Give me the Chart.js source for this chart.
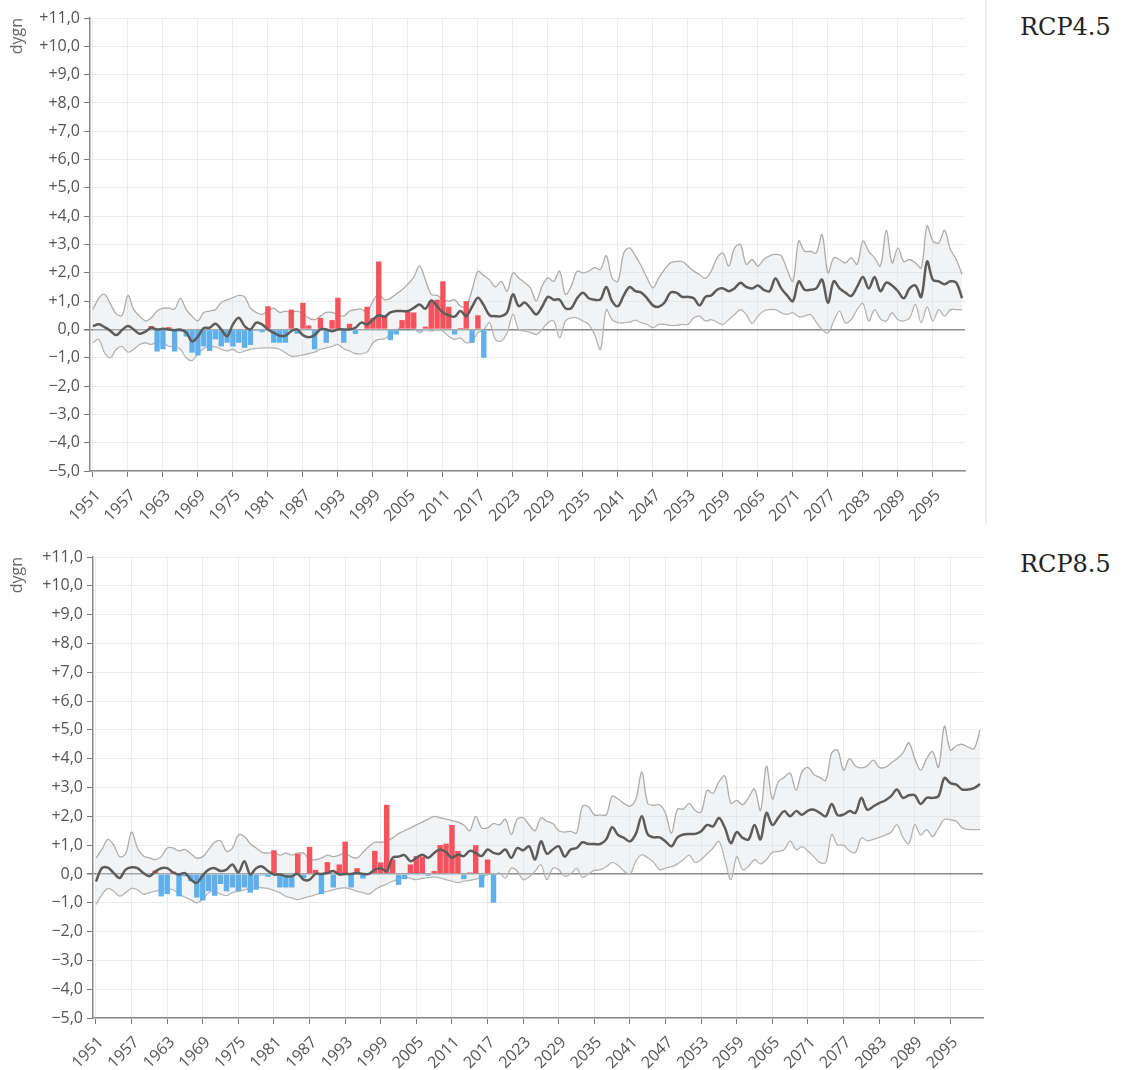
<!DOCTYPE html>
<html>
<head>
<meta charset="utf-8">
<script src="https://cdn.jsdelivr.net/npm/chart.js@4.4.1/dist/chart.umd.min.js"></script>
<style>
  body { margin: 0; background: #fff; width: 1128px; height: 1070px; position: relative; overflow: hidden; }
  .box { position: absolute; }
  .rcp { position: absolute; left: 1020px; font-family: 'DejaVu Serif', serif; font-size: 24px; color: #222; }
  .sep { position: absolute; left: 985px; top: 0; width: 2px; height: 525px; background: #f0f0f0; }
</style>
</head>
<body>
<div class="box" style="left:0;top:0"><canvas id="c45" width="980" height="530"></canvas></div>
<div class="sep"></div>
<div class="rcp" style="top:13px">RCP4.5</div>
<div class="box" style="left:0;top:537px"><canvas id="c85" width="995" height="533"></canvas></div>
<div class="rcp" style="top:550px">RCP8.5</div>
<script>
// years 1951-2100
const firstYear = 1951, lastYear = 2100;
const years = [];
for (let y = firstYear; y <= lastYear; y++) years.push(String(y));

// observed deviation (bars), 1961-2018
const obsStart = 1961;
const observed = [
  0.12, -0.78, -0.7, 0.08, -0.78, -0.08, -0.25, -0.82, -0.92, -0.6,
  -0.76, -0.35, -0.6, -0.47, -0.6, -0.47, -0.65, -0.55, -0.05, -0.1,
  0.82, -0.47, -0.47, -0.47, 0.7, -0.15, 0.94, 0.14, -0.7, 0.41,
  -0.47, 0.33, 1.12, -0.47, 0.2, -0.16, 0, 0.8, 0.4, 2.4,
  0.5, -0.38, -0.18, 0.33, 0.62, 0.6, -0.06, 0.1, 1.0, 1.05,
  1.7, 0.8, -0.18, 0.05, 1.0, -0.47, 0.5, -1.0
];

// RCP4.5 scenario, median / low / high
const rcp45Median = [
  0.12, 0.18, 0.08, -0.05, -0.2, -0.02, 0.12, 0.0, -0.15, -0.08,
  0.06, 0.0, 0.02, 0.0, -0.03, 0.0, -0.1, -0.42, -0.25, 0.05,
  0.06, 0.2, 0.0, -0.24, 0.18, 0.41, 0.12, 0.0, 0.24, 0.18,
  0.0, -0.12, -0.22, -0.22, -0.06, 0.0, -0.2, -0.28, -0.2, 0.0,
  0.0, -0.06, 0.0, 0.0, 0.0, 0.06, 0.24, 0.18, 0.35, 0.5,
  0.45, 0.6, 0.65, 0.65, 0.65, 0.76, 0.88, 0.73, 1.02, 0.82,
  0.6, 0.5, 0.45, 0.65, 0.47, 0.8, 1.12, 0.85, 0.5, 0.47,
  0.47, 0.6, 1.24, 0.82, 0.95, 0.75, 0.53, 0.8, 1.15, 1.05,
  1.05, 0.75, 0.75, 1.1, 1.3, 1.1, 1.05, 1.06, 1.5, 1.0,
  0.82, 1.2, 1.5, 1.35, 1.3, 1.1, 0.85, 0.8, 0.95, 1.3,
  1.3, 1.15, 1.15, 1.1, 0.85, 1.15, 1.2, 1.4, 1.45, 1.35,
  1.45, 1.65, 1.5, 1.45, 1.55, 1.4, 1.35, 1.8, 1.45, 1.2,
  1.0, 1.7, 1.4, 1.4, 1.45, 1.76, 0.94, 1.7, 1.45, 1.3,
  1.18, 1.5, 1.85, 1.45, 1.85, 1.35, 1.65, 1.55, 1.35, 1.1,
  1.45, 1.55, 1.15, 2.4, 1.75, 1.7, 1.6, 1.7, 1.65, 1.1
];
const rcp45High = [
  0.7, 1.1, 1.24, 0.9, 0.55, 0.5, 1.2, 0.7, 0.47, 0.3,
  0.41, 0.65, 0.75, 0.75, 0.72, 1.1, 0.7, 0.47, 0.3, 0.6,
  0.65, 0.7, 0.95, 1.05, 1.12, 1.2, 1.15, 0.75, 0.6, 0.53,
  0.65, 0.75, 0.6, 0.65, 0.6, 0.65, 0.55, 0.4, 0.35, 0.47,
  0.6, 0.6, 0.53, 0.47, 0.65, 0.7, 0.72, 0.6, 1.0, 1.25,
  1.05, 1.1, 1.25, 1.4, 1.6, 1.85, 2.24, 1.75, 1.24, 1.2,
  1.05, 1.0, 1.05, 0.82, 0.82, 1.4, 2.05, 1.9, 1.75, 1.5,
  1.7, 1.35, 2.0, 1.82, 1.65, 1.47, 1.0, 1.53, 1.82, 1.7,
  2.06, 1.24, 1.53, 2.06, 2.0, 2.06, 2.18, 2.12, 2.6, 1.82,
  1.7, 2.7, 2.88, 2.6, 2.24, 1.82, 1.47, 1.82, 2.12, 2.35,
  2.4, 2.4, 2.24, 2.06, 1.94, 1.8, 2.06, 2.53, 2.7, 2.24,
  2.88, 3.0, 2.3, 2.47, 2.24, 2.47, 2.6, 2.65, 2.6, 2.12,
  1.7, 3.12, 2.76, 2.76, 2.7, 3.35, 2.0, 2.53, 2.47, 2.35,
  2.53, 2.3, 3.12, 2.76, 2.53, 2.24, 3.5, 2.35, 2.88, 2.4,
  2.47, 2.35, 2.18, 3.65, 3.12, 3.06, 3.5, 2.82, 2.47, 1.94
];
const rcp45Low = [
  -0.47, -0.35, -0.82, -1.0, -0.7, -0.6, -0.8, -0.7, -0.53, -0.47,
  -0.53, -0.44, -0.45, -0.6, -0.6, -0.7, -1.0, -1.1, -0.85, -0.67,
  -0.6, -0.62, -0.7, -0.76, -0.7, -0.82, -0.76, -0.7, -0.67, -0.65,
  -0.65, -0.65, -0.7, -0.82, -0.94, -0.94, -0.9, -0.85, -0.8, -0.7,
  -0.65, -0.6, -0.53, -0.68, -0.76, -0.85, -0.86, -0.8, -0.47, -0.35,
  -0.33, -0.18, -0.02, 0.12, 0.3, 0.06, -0.12, 0.0, -0.06, 0.0,
  -0.06, -0.24, -0.35, -0.3, -0.47, -0.41, -0.12, 0.0, 0.24, -0.35,
  -0.41, -0.12, 0.53, 0.0, -0.06, -0.1, -0.18, 0.0, 0.24, 0.3,
  -0.3, 0.3, 0.41, 0.41, 0.3, 0.18, -0.18, -0.7, 0.7, 0.35,
  0.24, 0.24, 0.26, 0.33, 0.24, 0.18, 0.06, 0.18, 0.18, 0.14,
  0.14, 0.18, 0.18, 0.41, 0.47, 0.3, 0.35, 0.26, 0.18, 0.35,
  0.53, 0.7, 0.53, 0.21, 0.47, 0.65, 0.7, 0.7, 0.59, 0.53,
  0.59, 0.45, 0.47, 0.53, 0.26, 0.0, -0.12, 0.3, 0.65, 0.24,
  0.35, 0.7, 0.92, 0.3, 0.7, 0.38, 0.3, 0.59, 0.35, 0.3,
  0.41, 0.88, 0.24, 0.8, 0.3, 0.7, 0.47, 0.7, 0.7, 0.7
];

// RCP8.5 scenario, median / low / high
const rcp85Median = [
  -0.26, 0.2, 0.22, 0.03, -0.14, 0.15, 0.23, 0.2, 0.03, -0.08,
  0.08, 0.2, 0.2, 0.05, -0.02, 0.03, -0.2, -0.31, -0.05, 0.15,
  0.2, 0.1, 0.15, 0.33, 0.05, 0.44, -0.02, 0.2, 0.26, 0.1,
  -0.02, -0.02, -0.08, -0.08, 0.0, -0.2, -0.2, 0.0, 0.0, 0.03,
  0.1, -0.02, 0.0, 0.0, 0.03, 0.0, 0.0, 0.15, 0.2, 0.1,
  0.56, 0.6, 0.65, 0.44, 0.56, 0.67, 0.56, 0.73, 0.85, 0.75,
  0.56, 0.67, 0.62, 0.8, 0.73, 0.62, 0.85, 0.73, 0.7, 0.85,
  0.56, 0.9, 0.82, 0.96, 0.5, 1.13, 0.7, 0.85, 0.96, 0.6,
  0.85, 0.9, 1.1, 1.04, 1.04, 1.04, 1.2, 1.62, 1.35, 1.25,
  1.13, 1.4, 2.0, 1.37, 1.27, 1.27, 1.13, 0.96, 1.27, 1.37,
  1.39, 1.39, 1.48, 1.7, 1.65, 1.94, 1.6, 1.07, 1.45, 1.25,
  1.2, 1.7, 1.2, 2.12, 1.7, 1.95, 2.18, 2.0, 2.18, 2.05,
  2.2, 2.23, 2.12, 2.0, 2.43, 2.04, 2.06, 2.18, 2.12, 2.64,
  2.23, 2.34, 2.46, 2.55, 2.7, 2.93, 2.64, 2.73, 2.73, 2.43,
  2.64, 2.64, 2.7, 3.33, 3.15, 3.1, 2.93, 2.93, 2.98, 3.12
];
const rcp85High = [
  0.55, 0.85, 1.2, 1.0, 0.6, 0.7, 1.45, 0.9, 0.62, 0.56,
  0.5, 0.6, 0.9, 0.9, 0.8, 0.85, 0.7, 0.55, 0.6, 0.85,
  1.1, 1.15, 0.78, 0.9, 1.35, 1.3, 1.05, 0.9, 0.75, 0.72,
  0.75, 0.65, 0.72, 0.65, 0.72, 0.72, 0.5, 0.5, 0.55, 0.65,
  0.6, 0.65, 0.72, 0.6, 0.55, 0.75, 0.95, 1.1, 1.1, 1.15,
  1.25, 1.4, 1.5, 1.6, 1.7, 1.8, 1.9, 2.0, 1.95, 1.9,
  1.85, 1.8, 1.7, 1.5, 2.0, 1.6, 1.6, 1.75, 1.7, 1.9,
  1.37, 1.9, 1.95, 1.7, 1.5, 1.95, 1.83, 1.75, 1.5, 1.45,
  1.48, 1.42, 2.35, 2.33, 2.05, 2.05, 2.05, 2.7, 2.6, 2.45,
  2.35, 2.6, 3.53, 2.45, 2.38, 2.4, 2.1, 1.42, 2.25, 2.25,
  2.45, 2.2, 2.15, 2.9, 2.8, 3.2, 3.4, 2.45, 2.55, 2.4,
  2.65, 2.95, 2.2, 3.74, 2.6, 3.2, 3.35, 3.5, 2.9, 3.55,
  3.7, 3.45, 3.35, 3.25, 4.2, 4.3, 3.6, 4.0, 3.75, 3.68,
  3.75, 3.95, 3.7, 3.7, 3.85, 4.0, 4.2, 4.55, 4.0, 3.6,
  4.0, 4.25, 3.7, 5.13, 4.3, 4.45, 4.5, 4.4, 4.35, 5.0
];
const rcp85Low = [
  -1.06, -0.72, -0.5, -0.6, -0.77, -0.65, -0.5, -0.55, -0.7, -0.65,
  -0.6, -0.55, -0.5, -0.55, -0.7, -0.8, -0.9, -1.0, -0.88, -0.65,
  -0.6, -0.7, -0.75, -0.65, -0.6, -0.55, -0.5, -0.48, -0.48, -0.5,
  -0.58, -0.65, -0.78, -0.83, -0.89, -0.83, -0.78, -0.72, -0.66, -0.6,
  -0.55, -0.5, -0.48, -0.53, -0.6, -0.65, -0.7, -0.55, -0.43, -0.35,
  -0.25, -0.2, -0.1, -0.15, -0.2, -0.15, -0.13, -0.1, -0.14, -0.2,
  -0.25, -0.3, -0.25, -0.22, -0.18, -0.12, -0.02, -0.02, 0.03, -0.14,
  0.2, 0.1, -0.2, -0.1, 0.1, 0.32, -0.2, 0.2, 0.15, -0.08,
  0.0, 0.2, -0.12, 0.0, 0.12, 0.15, 0.25, 0.4, 0.3, 0.1,
  0.0, 0.45, 0.67, 0.56, 0.4, 0.15, 0.2, 0.25, 0.35, 0.5,
  0.65, 0.4, 0.5, 0.7, 0.9, 1.13, 0.5, -0.2, 0.6, 0.15,
  0.27, 0.5, 0.35, 0.5, 0.75, 0.78, 0.85, 1.15, 0.85, 0.95,
  0.8, 0.6, 0.4, 0.4, 1.37, 1.0, 1.0, 0.8, 0.75, 1.25,
  1.15, 1.2, 1.27, 1.35, 1.45, 1.71, 1.27, 1.05, 1.71, 1.35,
  1.54, 1.3, 1.6, 1.9, 1.88, 1.83, 1.6, 1.55, 1.54, 1.54
];

// y axis range and tick step
const yMin = -5, yMax = 11, yStep = 1;
const labelEvery = 6;

const barData = years.map((y, i) => {
  const k = firstYear + i - obsStart;
  return (k >= 0 && k < observed.length) ? observed[k] : null;
});
const barColors = barData.map(v => v !== null && v >= 0 ? '#f4525c' : '#5fb0ea');

function fmtY(v) {
  const s = Math.abs(v).toFixed(1).replace('.', ',');
  if (v > 0) return '+' + s;
  if (v < 0) return '\u2212' + s;
  return s;
}

const tickFont = { family: "'Open Sans'", size: 16 };

function makeChart(id, median, low, high, yWidth, xHeight, pad) {
  new Chart(document.getElementById(id), {
    type: 'bar',
    data: {
      labels: years,
      datasets: [
        { type: 'line', data: median, borderColor: '#5c5c5c', borderWidth: 2.5,
          pointRadius: 0, tension: 0.35, fill: false, order: 1 },
        { type: 'bar', data: barData, backgroundColor: barColors,
          barPercentage: 1, categoryPercentage: 0.92, order: 2 },
        { type: 'line', data: high, borderColor: '#adadad', borderWidth: 1.3,
          pointRadius: 0, tension: 0.35, fill: '+1',
          backgroundColor: 'rgba(218,222,226,0.35)', order: 3 },
        { type: 'line', data: low, borderColor: '#adadad', borderWidth: 1.3,
          pointRadius: 0, tension: 0.35, fill: false, order: 4 }
      ]
    },
    options: {
      responsive: false,
      animation: false,
      layout: { padding: pad },
      plugins: { legend: { display: false }, tooltip: { enabled: false } },
      scales: {
        x: {
          offset: true,
          grid: { offset: false, color: '#ececec', tickColor: '#777', tickLength: 6 },
          border: { color: '#8a8a8a', width: 1.5 },
          ticks: {
            autoSkip: false, maxRotation: 45, minRotation: 45,
            font: tickFont, color: '#555', padding: 9, labelOffset: 5,
            callback: function (val, idx) {
              return idx % labelEvery === 0 ? this.getLabelForValue(val) : null;
            }
          },
          afterFit: s => { s.height = xHeight; }
        },
        y: {
          min: yMin, max: yMax,
          grid: {
            color: c => c.tick && c.tick.value === 0 ? '#8a8a8a' : '#ececec',
            lineWidth: c => c.tick && c.tick.value === 0 ? 1.5 : 1,
            tickColor: '#777', tickLength: 6
          },
          border: { color: '#8a8a8a', width: 1.5 },
          ticks: { stepSize: yStep, font: tickFont, color: '#555', padding: 4, callback: v => fmtY(v) },
          title: { display: true, text: 'dygn', align: 'end', color: '#666',
                   font: { family: "'Open Sans'", size: 16 }, padding: { top: 7, bottom: 0 } },
          afterFit: s => { s.width = yWidth; }
        }
      }
    }
  });
}

makeChart('c45', rcp45Median, rcp45Low, rcp45High, 89, 59, { top: 18, right: 15, left: 1, bottom: 0 });
makeChart('c85', rcp85Median, rcp85Low, rcp85High, 92, 52, { top: 20, right: 12, left: 1, bottom: 0 });
</script>
</body>
</html>
